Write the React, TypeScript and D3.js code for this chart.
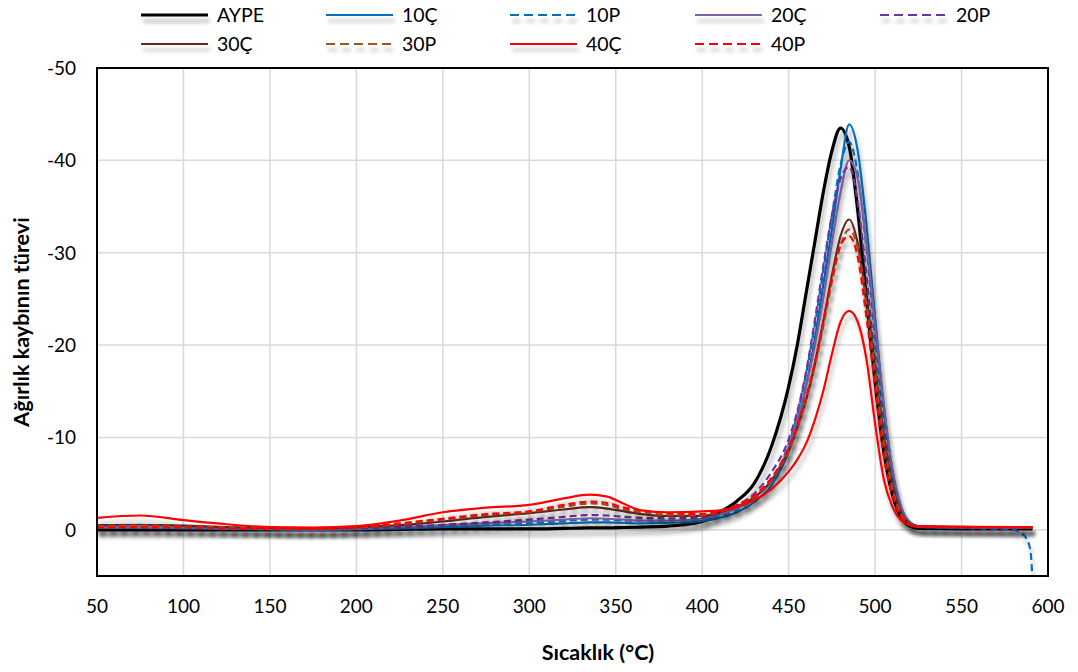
import * as d3 from "d3";

// temperature grid (°C) shared by all series
const temps = [50, 75, 100, 125, 150, 175, 200, 225, 250, 275, 300, 320, 335, 345, 355, 365, 380, 400, 410, 420, 430, 440, 450, 455, 460, 465, 470, 475, 480, 485, 490, 495, 500, 505, 510, 515, 520, 525, 550, 580, 584, 588, 590, 591];

// derivative of weight loss for each sample
const aype = [0, 0, 0, 0, 0, 0, 0, -0.05, -0.1, -0.1, -0.1, -0.15, -0.2, -0.2, -0.25, -0.3, -0.4, -0.9, -1.9, -3.1, -5.0, -9.0, -15.5, -20.0, -25.5, -31.0, -36.5, -41.0, -43.5, -41.5, -34.5, -25.0, -16.0, -8.5, -3.8, -1.3, -0.4, -0.15, -0.1, -0.1, -0.1, -0.1, -0.1, -0.1];
const s10C = [-0.2, -0.2, -0.15, -0.1, -0.05, 0, -0.05, -0.15, -0.3, -0.45, -0.55, -0.7, -0.8, -0.8, -0.75, -0.7, -0.75, -0.95, -1.3, -1.9, -3.0, -4.8, -8.5, -11.5, -15.5, -20.5, -26.5, -32.5, -39.0, -43.9, -41.0, -33.0, -23.0, -13.5, -6.5, -2.5, -0.8, -0.35, -0.25, -0.2, -0.2, -0.2, -0.2, -0.2];
const s10P = [-0.3, -0.3, -0.25, -0.15, -0.1, -0.05, -0.1, -0.2, -0.35, -0.6, -0.75, -0.95, -1.1, -1.1, -1.0, -1.0, -1.0, -1.15, -1.5, -2.2, -3.4, -5.4, -9.3, -12.5, -16.8, -22.0, -28.0, -34.0, -39.5, -42.0, -38.5, -30.5, -21.0, -12.0, -5.8, -2.2, -0.7, -0.3, -0.2, 0, 0.3, 1.1, 2.5, 5.5];
const s20C = [-0.3, -0.3, -0.25, -0.15, -0.1, -0.05, -0.1, -0.3, -0.5, -0.7, -0.9, -1.1, -1.25, -1.2, -1.1, -1.0, -1.0, -1.2, -1.6, -2.3, -3.4, -5.3, -9.0, -12.0, -15.5, -19.8, -25.0, -31.0, -36.5, -40.0, -38.0, -31.0, -22.0, -13.5, -6.5, -2.5, -0.9, -0.4, -0.3, -0.25, -0.25, -0.25, -0.25, -0.25];
const s20P = [-0.2, -0.25, -0.2, -0.15, -0.1, -0.05, -0.15, -0.3, -0.55, -0.8, -1.1, -1.4, -1.6, -1.55, -1.4, -1.3, -1.25, -1.35, -1.8, -2.6, -3.9, -6.2, -9.8, -12.8, -17.0, -22.5, -28.5, -34.0, -38.0, -39.3, -35.5, -27.5, -18.5, -10.5, -5.0, -1.8, -0.6, -0.3, -0.25, -0.2, -0.2, -0.2, -0.2, -0.2];
const s30C = [-0.5, -0.55, -0.45, -0.3, -0.2, -0.15, -0.25, -0.5, -0.9, -1.4, -1.8, -2.2, -2.45, -2.3, -2.0, -1.7, -1.5, -1.5, -1.9, -2.5, -3.5, -5.3, -8.5, -11.0, -14.0, -17.8, -22.5, -27.5, -31.8, -33.6, -31.0, -25.0, -17.5, -10.0, -4.8, -1.8, -0.7, -0.4, -0.3, -0.3, -0.3, -0.3, -0.3, -0.3];
const s30P = [-0.4, -0.45, -0.35, -0.25, -0.15, -0.1, -0.25, -0.6, -1.1, -1.6, -1.9, -2.5, -2.85, -2.7, -2.2, -1.9, -1.6, -1.55, -1.95, -2.6, -3.6, -5.4, -8.6, -11.0, -14.0, -17.6, -22.0, -26.8, -30.8, -32.5, -30.5, -24.5, -17.0, -9.5, -4.5, -1.7, -0.6, -0.35, -0.3, -0.3, -0.3, -0.3, -0.3, -0.3];
const s40C = [-1.3, -1.55, -1.05, -0.6, -0.3, -0.25, -0.4, -1.0, -1.9, -2.4, -2.7, -3.4, -3.8, -3.6, -2.8, -2.1, -1.9, -2.0, -2.1, -2.5, -3.2, -4.4, -6.3, -7.6, -9.3, -11.8, -15.0, -19.0, -22.5, -23.7, -22.5, -18.5, -11.5, -5.5, -2.5, -1.0, -0.5, -0.4, -0.35, -0.3, -0.3, -0.3, -0.3, -0.3];
const s40P = [-0.25, -0.3, -0.25, -0.15, -0.1, -0.1, -0.3, -0.7, -1.2, -1.7, -2.0, -2.7, -3.05, -2.9, -2.4, -2.1, -1.8, -1.7, -2.0, -2.7, -3.7, -5.6, -8.8, -11.3, -14.3, -18.0, -22.5, -27.2, -30.8, -31.8, -29.5, -23.0, -15.5, -8.0, -3.8, -1.4, -0.6, -0.35, -0.3, -0.3, -0.3, -0.3, -0.3, -0.3];

const names = ["AYPE", "10Ç", "10P", "20Ç", "20P", "30Ç", "30P", "40Ç", "40P"];
const colors = ["#000000", "#0070C0", "#0070C0", "#8064A2", "#7030A0", "#632523", "#A5531B", "#FF0000", "#FF0000"];
const dashed = [false, false, true, false, true, false, true, false, true];
const values = [aype, s10C, s10P, s20C, s20P, s30C, s30P, s40C, s40P];

const xTicks = [50, 100, 150, 200, 250, 300, 350, 400, 450, 500, 550, 600];
const yTicks = [-50, -40, -30, -20, -10, 0];

const W = 1078;
const H = 672;
const margin = { top: 68, right: 30, bottom: 96, left: 97 };
const font = "Lato, 'Noto Sans', sans-serif";

export default function App() {
  const x = d3.scaleLinear().domain([50, 600]).range([margin.left, W - margin.right]);
  const y = d3.scaleLinear().domain([-50, 5]).range([margin.top, H - margin.bottom]);

  const line = d3
    .line<[number, number]>()
    .x((d) => x(d[0]))
    .y((d) => y(d[1]))
    .curve(d3.curveMonotoneX);

  // legend layout: 5 columns, 2 rows
  const colX = [141, 326, 510, 695, 880];
  const rowY = [15, 44];

  return (
    <svg
      width={W}
      height={H}
      style={{ position: "absolute", left: 0, top: 0, background: "#fff" }}
      fontFamily={font}
    >
      <defs>
        <clipPath id="plot">
          <rect x={margin.left} y={margin.top} width={x(600) - x(50)} height={y(5) - y(-50)} />
        </clipPath>
        <filter id="shadow" filterUnits="userSpaceOnUse" x={0} y={0} width={W} height={H}>
          <feGaussianBlur in="SourceAlpha" stdDeviation="2.2" />
          <feOffset dx="1.5" dy="6" result="b" />
          <feComponentTransfer>
            <feFuncA type="linear" slope="0.3" />
          </feComponentTransfer>
          <feMerge>
            <feMergeNode />
            <feMergeNode in="SourceGraphic" />
          </feMerge>
        </filter>
      </defs>

      <rect width={W} height={H} fill="#fff" />

      {/* grid */}
      {xTicks.map((t) => (
        <line key={"gx" + t} x1={x(t)} x2={x(t)} y1={y(-50)} y2={y(5)} stroke="#d9d9d9" strokeWidth={1.5} />
      ))}
      {yTicks.map((t) => (
        <line key={"gy" + t} x1={x(50)} x2={x(600)} y1={y(t)} y2={y(t)} stroke="#d9d9d9" strokeWidth={1.5} />
      ))}

      {/* series */}
      <g clipPath="url(#plot)">
        {values.map((vals, i) => (
          <path
            key={names[i]}
            d={line(temps.map((t, j) => [t, vals[j]] as [number, number])) || ""}
            fill="none"
            stroke={colors[i]}
            strokeWidth={i === 0 ? 3.2 : 2.2}
            strokeDasharray={dashed[i] ? "7 4" : undefined}
            filter="url(#shadow)"
          />
        ))}
      </g>

      {/* plot border */}
      <rect
        x={x(50)}
        y={y(-50)}
        width={x(600) - x(50)}
        height={y(5) - y(-50)}
        fill="none"
        stroke="#000"
        strokeWidth={2}
      />

      {/* y tick labels */}
      {yTicks.map((t) => (
        <text key={"ty" + t} x={76} y={y(t)} dy="0.36em" textAnchor="end" fontSize={19} fill="#000">
          {t}
        </text>
      ))}
      {/* x tick labels */}
      {xTicks.map((t) => (
        <text key={"tx" + t} x={x(t)} y={613} textAnchor="middle" fontSize={19} fill="#000">
          {t}
        </text>
      ))}

      {/* axis titles */}
      <text x={598} y={660} textAnchor="middle" fontSize={21.5} fontWeight="bold" fill="#000">
        Sıcaklık (°C)
      </text>
      <text
        transform={`translate(29, 322) rotate(-90)`}
        textAnchor="middle"
        fontSize={21.5}
        fontWeight="bold"
        fill="#000"
      >
        Ağırlık kaybının türevi
      </text>

      {/* legend */}
      {names.map((n, i) => {
        const cx = colX[i % 5];
        const cy = rowY[Math.floor(i / 5)];
        return (
          <g key={"lg" + n}>
            <line
              x1={cx}
              x2={cx + 67}
              y1={cy}
              y2={cy}
              stroke={colors[i]}
              strokeWidth={i === 0 ? 3.2 : 2.2}
              strokeDasharray={dashed[i] ? "9 5" : undefined}
              filter="url(#shadow)"
            />
            <text x={cx + 76} y={cy} dy="0.36em" fontSize={19.5} fill="#000">
              {n}
            </text>
          </g>
        );
      })}
    </svg>
  );
}
